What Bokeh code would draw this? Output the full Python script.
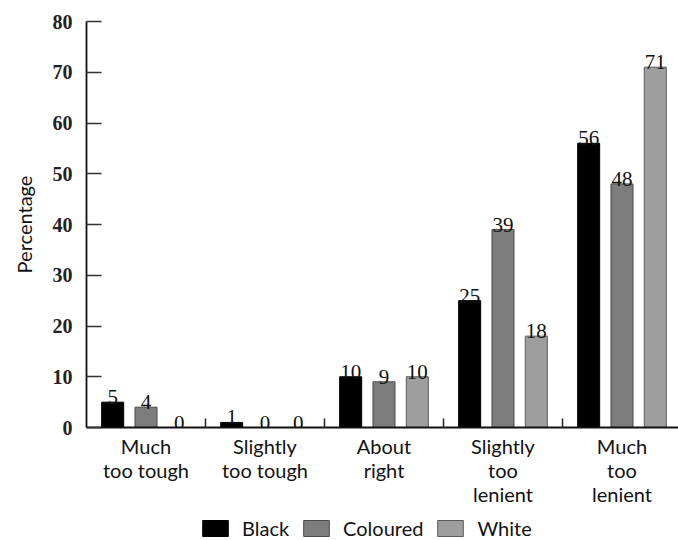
import numpy as np
from bokeh.plotting import figure
from bokeh.layouts import column
from bokeh.models import ColumnDataSource, FixedTicker, Legend, LegendItem, Range1d
from bokeh.core.properties import value
from bokeh.embed import file_html
from bokeh.resources import INLINE

categories = ["Much\ntoo tough", "Slightly\ntoo tough", "About\nright",
              "Slightly\ntoo\nlenient", "Much\ntoo\nlenient"]
black = [5, 1, 10, 25, 56]
coloured = [4, 0, 9, 39, 48]
white = [0, 0, 10, 18, 71]
series_names = ["Black", "Coloured", "White"]
y_ticks = [0, 10, 20, 30, 40, 50, 60, 70, 80]

colors = ["#000000", "#7d7d7d", "#9e9e9e"]
outlines = ["#000000", "#4a4a4a", "#5a5a5a"]
offsets = [-0.28, 0.0, 0.28]
bar_w = 0.185

centers = np.arange(len(categories)) + 0.5

p = figure(width=678, height=508,
           x_range=(0, 4.975), y_range=(0, 80),
           output_backend="svg", toolbar_location=None,
           min_border_left=86, min_border_right=0, min_border_top=21, min_border_bottom=0)
p.outline_line_color = None
p.xgrid.visible = False
p.ygrid.visible = False
p.background_fill_color = "white"
p.border_fill_color = "white"

for vals, col, oc, off in zip([black, coloured, white], colors, outlines, offsets):
    src = ColumnDataSource(dict(x=centers + off, top=vals, lab=[str(v) for v in vals]))
    p.vbar(x="x", top="top", bottom=0, width=bar_w, source=src,
           fill_color=col, line_color=oc, line_width=1)
    p.text(x="x", y="top", text="lab", source=src, text_align="center",
           text_baseline="bottom", y_offset=2,
           text_font=value("Liberation Serif"), text_font_size="21px", text_color="#111111")

# x axis
xa = p.xaxis[0]
xa.ticker = FixedTicker(ticks=list(centers), minor_ticks=[1, 2, 3, 4])
xa.major_label_overrides = {float(c): lab for c, lab in zip(centers, categories)}
xa.major_tick_in = 0
xa.major_tick_out = 0
xa.minor_tick_in = 9
xa.minor_tick_out = 0
xa.minor_tick_line_color = "#222222"
xa.minor_tick_line_width = 1.5
xa.axis_line_color = "#111111"
xa.axis_line_width = 1.8
xa.major_label_text_font = "Lato"
xa.major_label_text_font_size = "20px"
xa.major_label_text_color = "#111111"
xa.major_label_standoff = 6
xa.major_label_text_line_height = 1.0

# y axis
ya = p.yaxis[0]
ya.ticker = FixedTicker(ticks=y_ticks)
ya.major_tick_in = 15
ya.major_tick_out = 0
ya.minor_tick_in = 0
ya.minor_tick_out = 0
ya.major_tick_line_color = "#333333"
ya.major_tick_line_width = 1.5
ya.axis_line_color = "#111111"
ya.axis_line_width = 1.8
ya.major_label_text_font = "Liberation Serif"
ya.major_label_text_font_style = "bold"
ya.major_label_text_font_size = "20px"
ya.major_label_text_color = "#222222"
ya.major_label_standoff = 14
ya.axis_label = "Percentage"
ya.axis_label_text_font = "Lato"
ya.axis_label_text_font_style = "normal"
ya.axis_label_text_font_size = "20px"
ya.axis_label_text_color = "#111111"
ya.axis_label_standoff = 14

# legend strip (legend proxies sit outside the visible range)
lf = figure(width=678, height=32, x_range=Range1d(0, 1), y_range=Range1d(0, 1),
            x_axis_type=None, y_axis_type=None,
            output_backend="svg", toolbar_location=None,
            min_border_left=0, min_border_right=0, min_border_top=0, min_border_bottom=0)
lf.outline_line_color = None
lf.xgrid.visible = False
lf.ygrid.visible = False
lf.border_fill_color = "white"

items = []
for col, oc, name in zip(colors, outlines, series_names):
    r = lf.vbar(x=[-5], top=[-5], bottom=[-5], width=0, fill_color=col,
                line_color=oc, line_width=1)
    items.append(LegendItem(label=name, renderers=[r]))

legend = Legend(items=items, orientation="horizontal", location=(113, 0),
                glyph_width=32, glyph_height=20, label_standoff=11, spacing=11,
                label_text_font="Lato", label_text_font_size="20px",
                label_text_color="#111111", padding=0, margin=0,
                border_line_color=None, background_fill_alpha=0)
lf.add_layout(legend, "center")

layout = column(p, lf, spacing=0)
open("out.html", "w").write(file_html(layout, INLINE))
